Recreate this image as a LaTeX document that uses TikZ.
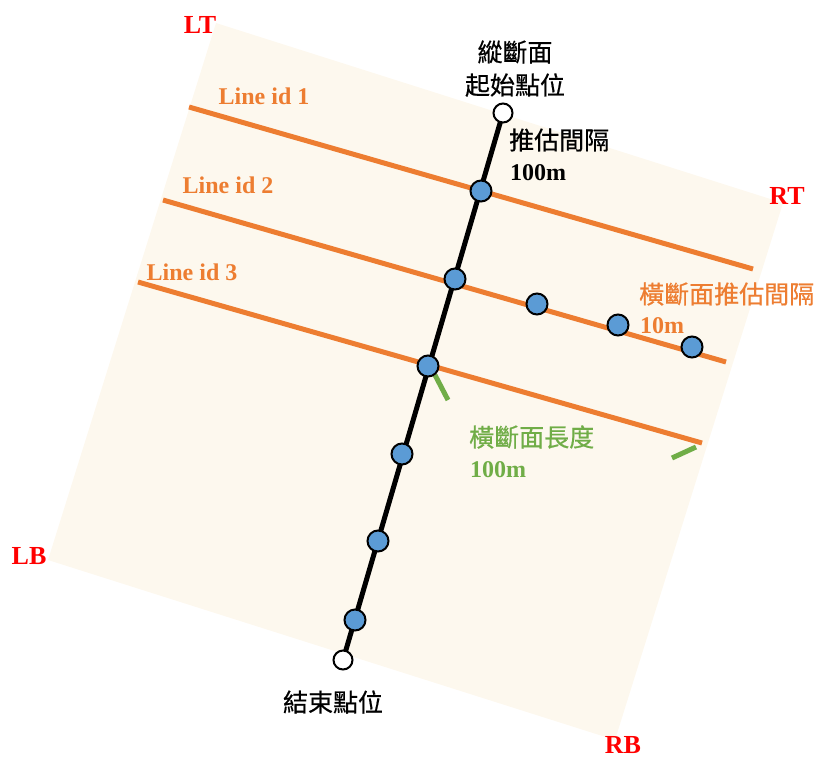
\documentclass[tikz,border=0pt]{standalone}
\usepackage{fontspec}
\setmainfont{Liberation Serif}
\newfontfamily\cjk[FakeBold=0.6]{Noto Sans CJK TC}
\begin{document}
\begin{tikzpicture}[x=1pt,y=-1pt,
  corner/.style={text=red,font=\fontsize{26}{28}\selectfont\bfseries,inner sep=0pt},
  lineid/.style={text=orangeC,font=\fontsize{24}{26}\selectfont\bfseries,inner sep=0pt},
  cjklab/.style={font=\cjk\fontsize{25}{30}\selectfont,inner sep=0pt},
  numlab/.style={font=\fontsize{24}{26}\selectfont\bfseries,inner sep=0pt},
  bluedot/.style={circle,draw=black,line width=2pt,fill=blueC,minimum size=21pt,inner sep=0pt},
  whitedot/.style={circle,draw=black,line width=2pt,fill=white,minimum size=19pt,inner sep=0pt},
  orangeline/.style={draw=orangeC,line width=5pt},
  greenline/.style={draw=greenC,line width=5pt},
  blackline/.style={draw=black,line width=5pt}]
\definecolor{orangeC}{HTML}{ED7D31}
\definecolor{blueC}{HTML}{5B9BD5}
\definecolor{greenC}{HTML}{70AD47}
\definecolor{bgC}{HTML}{FDF8EE}
\useasboundingbox (0,0) rectangle (818,758);
% background
\fill[bgC] (216,23) -- (783,203) -- (615,740) -- (48,560) -- cycle;
% corner labels
\node[corner] (lt) at (200,25) {LT};
\node[corner] (rt) at (787,196) {RT};
\node[corner] (lb) at (29,556) {LB};
\node[corner] (rb) at (623,745) {RB};
% orange lines
\coordinate (l1a) at (189,107); \coordinate (l1b) at (753,269);
\coordinate (l2a) at (163,200); \coordinate (l2b) at (726,362);
\coordinate (l3a) at (138,282); \coordinate (l3b) at (702,443);
\draw[orangeline] (l1a) -- (l1b);
\draw[orangeline] (l2a) -- (l2b);
\draw[orangeline] (l3a) -- (l3b);
\node[lineid] (id1) at (264,96) {Line id 1};
\node[lineid] (id2) at (228,185) {Line id 2};
\node[lineid] (id3) at (192,272) {Line id 3};
% green ticks
\coordinate (g1a) at (435,375); \coordinate (g1b) at (448,400);
\coordinate (g2a) at (672,458); \coordinate (g2b) at (696,447);
\draw[greenline] (g1a) -- (g1b);
\draw[greenline] (g2a) -- (g2b);
% black longitudinal line
\coordinate (st) at (503,113);
\coordinate (en) at (343,660);
\draw[blackline] (st) -- (en);
\node[whitedot] (start) at (st) {};
\node[whitedot] (end) at (en) {};
\node[bluedot] (p1) at (481,191) {};
\node[bluedot] (p2) at (455,279) {};
\node[bluedot] (p3) at (428,366) {};
\node[bluedot] (p4) at (402,454) {};
\node[bluedot] (p5) at (378,541) {};
\node[bluedot] (p6) at (355,620) {};
\node[bluedot] (q1) at (537,304) {};
\node[bluedot] (q2) at (618,325) {};
\node[bluedot] (q3) at (692,347) {};
% texts
\node[cjklab] (t1) at (515,52) {縱斷面};
\node[cjklab] (t2) at (515,85) {起始點位};
\node[cjklab,anchor=west] (t3) at (509,140) {推估間隔};
\node[numlab,anchor=west] (t4) at (510,173) {100m};
\node[cjklab,anchor=west,text=orangeC] (t5) at (639,294) {橫斷面推估間隔};
\node[numlab,anchor=west,text=orangeC] (t6) at (640,326) {10m};
\node[cjklab,anchor=west,text=greenC] (t7) at (469,437) {橫斷面長度};
\node[numlab,anchor=west,text=greenC] (t8) at (470,470) {100m};
\node[cjklab] (t9) at (333,702) {結束點位};
\end{tikzpicture}
\end{document}
